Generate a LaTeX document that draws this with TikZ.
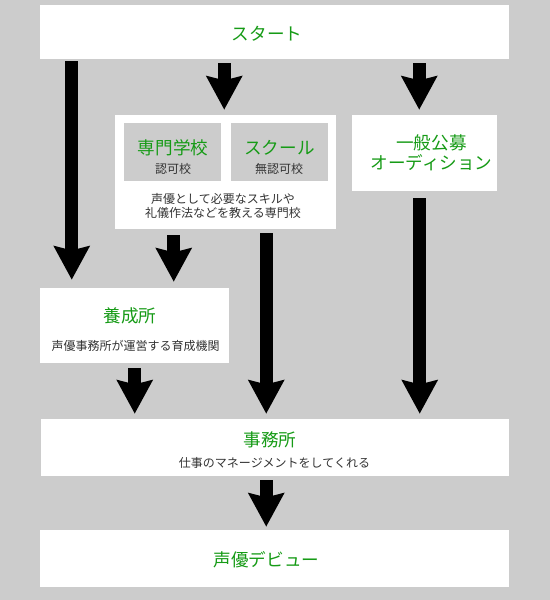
\documentclass[tikz,border=0pt]{standalone}
\usepackage{fontspec}
\setmainfont{Noto Sans CJK JP}
\usetikzlibrary{arrows.meta,calc}

\definecolor{bggray}{RGB}{204,204,204}
\definecolor{headgreen}{RGB}{22,155,22}
\definecolor{notegray}{RGB}{51,51,51}

\begin{document}
\begin{tikzpicture}[x=0.75pt,y=0.75pt,yscale=-1,xscale=1,
    box/.style={fill=white,draw=none,inner sep=0pt},
    subbox/.style={fill=bggray,draw=none,inner sep=0pt,minimum width=72.75pt,minimum height=43.5pt},
    head/.style={text=headgreen,inner sep=0pt,font=\fontsize{13.2}{16}\selectfont},
    note/.style={text=notegray,inner sep=0pt,align=center,font=\fontsize{9}{10.5}\selectfont},
    bigarrow/.style={draw=black,line width=9.75pt,-{Stealth[width=26.25pt,length=25pt,inset=3pt]}}]

%background
\fill[bggray] (0,0) rectangle (550,600);

%boxes
\node[box,minimum width=351.75pt,minimum height=40.5pt] (start) at (274.5,32) {};
\node[box,minimum width=165.75pt,minimum height=85.5pt] (school) at (225.5,172) {};
\node[subbox] (ninka) at (172.5,152) {};
\node[subbox] (muninka) at (279.5,152) {};
\node[box,minimum width=108.75pt,minimum height=57pt] (koubo) at (424.5,153) {};
\node[box,minimum width=141.75pt,minimum height=56.25pt] (yousei) at (134.5,325.5) {};
\node[box,minimum width=351pt,minimum height=42.75pt] (jimusho) at (275,447.5) {};
\node[box,minimum width=351.75pt,minimum height=42.75pt] (debut) at (274.5,558.5) {};

% Text Node
\node[head] (startT) at (267,34) {スタート};
% Text Node
\node[head] (ninkaT) at (173,148) {専門学校};
\node[note] (ninkaN) at (173,169) {認可校};
% Text Node
\node[head] (muninkaT) at (279.5,148) {スクール};
\node[note] (muninkaN) at (279,169) {無認可校};
% Text Node
\node[note] (schoolN) at (223,205.5) {声優として必要なスキルや\\礼儀作法などを教える専門校};
% Text Node
\node[head,align=center,font=\fontsize{13.2}{15}\selectfont] (kouboT) at (431.5,152.5) {一般公募\\オーディション};
% Text Node
\node[head] (youseiT) at (130,316) {養成所};
\node[note] (youseiN) at (135.5,346) {声優事務所が運営する育成機関};
% Text Node
\node[head] (jimushoT) at (270,440) {事務所};
\node[note] (jimushoN) at (274.5,463) {仕事のマネージメントをしてくれる};
% Text Node
\node[head] (debutT) at (266.5,560) {声優デビュー};

%arrows
\draw[bigarrow] ($(start.south west)+(32,2)$) -- ($(yousei.north west)+(32,-8)$);
\draw[bigarrow] ($(start.south west)+(184.5,4)$) -- ($(school.north west)+(109.5,-5)$);
\draw[bigarrow] ($(start.south west)+(379.5,4)$) -- ($(koubo.north west)+(67.5,-5)$);
\draw[bigarrow] ($(school.south west)+(59,6)$) -- ($(yousei.north west)+(134,-6)$);
\draw[bigarrow] ($(school.south west)+(151.5,4)$) -- ($(jimusho.north west)+(225.5,-5)$);
\draw[bigarrow] ($(koubo.south west)+(68,7)$) -- ($(jimusho.north west)+(379,-5)$);
\draw[bigarrow] ($(yousei.south west)+(95,5)$) -- ($(jimusho.north west)+(94,-5)$);
\draw[bigarrow] ($(jimusho.south west)+(225.5,4)$) -- ($(debut.north west)+(226.5,-3)$);
\end{tikzpicture}
\end{document}
